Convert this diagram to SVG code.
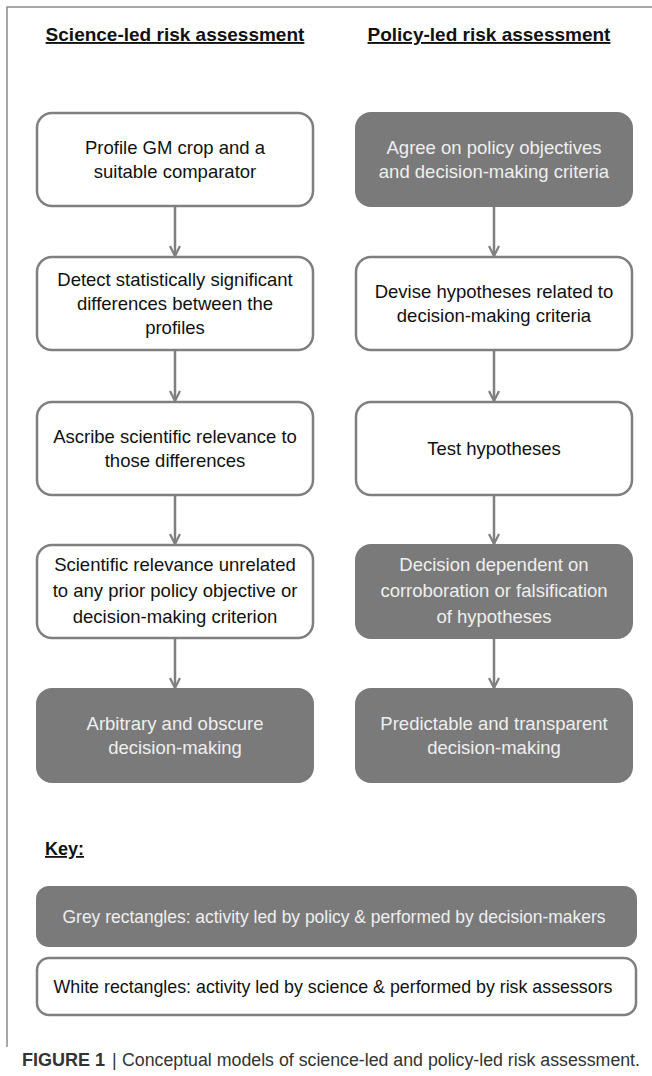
<svg xmlns="http://www.w3.org/2000/svg" width="652" height="1076" viewBox="0 0 652 1076">
<style>
.frame{fill:none;stroke:#8a8a8a;stroke-width:1.5}
.wbox{fill:#ffffff;stroke:#7f7f7f;stroke-width:2.5}
.gbox{fill:#7a7a7a;stroke:#7a7a7a;stroke-width:2}
.t{font-family:"Liberation Sans",Arial,sans-serif;font-size:18.5px;text-anchor:middle}
.dk{fill:#111111}
.lt{fill:#efefef}
.hd{font-family:"Liberation Sans",Arial,sans-serif;font-size:19px;font-weight:bold;fill:#111;text-anchor:middle;text-decoration:underline}
.conn{fill:none;stroke:#7f7f7f;stroke-width:2.5}
.cap{font-family:"Liberation Sans",Arial,sans-serif;font-size:18px;fill:#333}
</style>
<defs>
<marker id="arr" viewBox="0 0 12 12" refX="11" refY="6" markerWidth="12" markerHeight="12" markerUnits="userSpaceOnUse" orient="auto">
<path d="M1,1 L11,6 L1,11" fill="none" stroke="#7f7f7f" stroke-width="2.2"/>
</marker>
</defs>
<rect width="652" height="1076" fill="#ffffff"/>
<path class="frame" d="M7,1047 L7,7 L652,7"/>

<g id="headers">
<text class="hd" x="175" y="41">Science-led risk assessment</text>
<text class="hd" x="489" y="41">Policy-led risk assessment</text>
</g>

<g id="connectors">
<line class="conn" x1="175" y1="206" x2="175" y2="256" marker-end="url(#arr)"/>
<line class="conn" x1="175" y1="350" x2="175" y2="401" marker-end="url(#arr)"/>
<line class="conn" x1="175" y1="495" x2="175" y2="544" marker-end="url(#arr)"/>
<line class="conn" x1="175" y1="638" x2="175" y2="688" marker-end="url(#arr)"/>
<line class="conn" x1="494" y1="206" x2="494" y2="256" marker-end="url(#arr)"/>
<line class="conn" x1="494" y1="350" x2="494" y2="401" marker-end="url(#arr)"/>
<line class="conn" x1="494" y1="495" x2="494" y2="544" marker-end="url(#arr)"/>
<line class="conn" x1="494" y1="638" x2="494" y2="688" marker-end="url(#arr)"/>
</g>

<g id="s1">
<rect class="wbox" x="37" y="113" width="276" height="93" rx="15"/>
<text class="t dk" x="175" y="154">Profile GM crop and a</text>
<text class="t dk" x="175" y="178">suitable comparator</text>
</g>
<g id="s2">
<rect class="wbox" x="37" y="257" width="276" height="93" rx="15"/>
<text class="t dk" x="175" y="286">Detect statistically significant</text>
<text class="t dk" x="175" y="310">differences between the</text>
<text class="t dk" x="175" y="334">profiles</text>
</g>
<g id="s3">
<rect class="wbox" x="37" y="402" width="276" height="93" rx="15"/>
<text class="t dk" x="175" y="443">Ascribe scientific relevance to</text>
<text class="t dk" x="175" y="467">those differences</text>
</g>
<g id="s4">
<rect class="wbox" x="37" y="545" width="276" height="93" rx="15"/>
<text class="t dk" x="175" y="571">Scientific relevance unrelated</text>
<text class="t dk" x="175" y="597">to any prior policy objective or</text>
<text class="t dk" x="175" y="623">decision-making criterion</text>
</g>
<g id="s5">
<rect class="gbox" x="37" y="689" width="276" height="93" rx="15"/>
<text class="t lt" x="175" y="730">Arbitrary and obscure</text>
<text class="t lt" x="175" y="754">decision-making</text>
</g>

<g id="p1">
<rect class="gbox" x="356" y="113" width="276" height="93" rx="15"/>
<text class="t lt" x="494" y="154">Agree on policy objectives</text>
<text class="t lt" x="494" y="178">and decision-making criteria</text>
</g>
<g id="p2">
<rect class="wbox" x="356" y="257" width="276" height="93" rx="15"/>
<text class="t dk" x="494" y="298">Devise hypotheses related to</text>
<text class="t dk" x="494" y="322">decision-making criteria</text>
</g>
<g id="p3">
<rect class="wbox" x="356" y="402" width="276" height="93" rx="15"/>
<text class="t dk" x="494" y="455">Test hypotheses</text>
</g>
<g id="p4">
<rect class="gbox" x="356" y="545" width="276" height="93" rx="15"/>
<text class="t lt" x="494" y="571">Decision dependent on</text>
<text class="t lt" x="494" y="597">corroboration or falsification</text>
<text class="t lt" x="494" y="623">of hypotheses</text>
</g>
<g id="p5">
<rect class="gbox" x="356" y="689" width="276" height="93" rx="15"/>
<text class="t lt" x="494" y="730">Predictable and transparent</text>
<text class="t lt" x="494" y="754">decision-making</text>
</g>

<g id="key">
<text x="45" y="855" font-family="Liberation Sans, Arial, sans-serif" font-size="18px" font-weight="bold" fill="#111" text-decoration="underline">Key:</text>
</g>
<g id="key-grey">
<rect class="gbox" x="37" y="887" width="599" height="59" rx="12"/>
<text class="t lt" x="334" y="923" textLength="543" lengthAdjust="spacingAndGlyphs">Grey rectangles: activity led by policy &amp; performed by decision-makers</text>
</g>
<g id="key-white">
<rect class="wbox" x="37" y="958" width="599" height="57" rx="12"/>
<text class="t dk" x="333" y="993" textLength="559" lengthAdjust="spacingAndGlyphs">White rectangles: activity led by science &amp; performed by risk assessors</text>
</g>

<g id="caption">
<text class="cap" x="22" y="1066" font-weight="bold" fill="#222">FIGURE 1</text>
<text class="cap" x="112" y="1066" fill="#222">|</text>
<text class="cap" x="122" y="1066" textLength="518" lengthAdjust="spacingAndGlyphs">Conceptual models of science-led and policy-led risk assessment.</text>
</g>
</svg>
